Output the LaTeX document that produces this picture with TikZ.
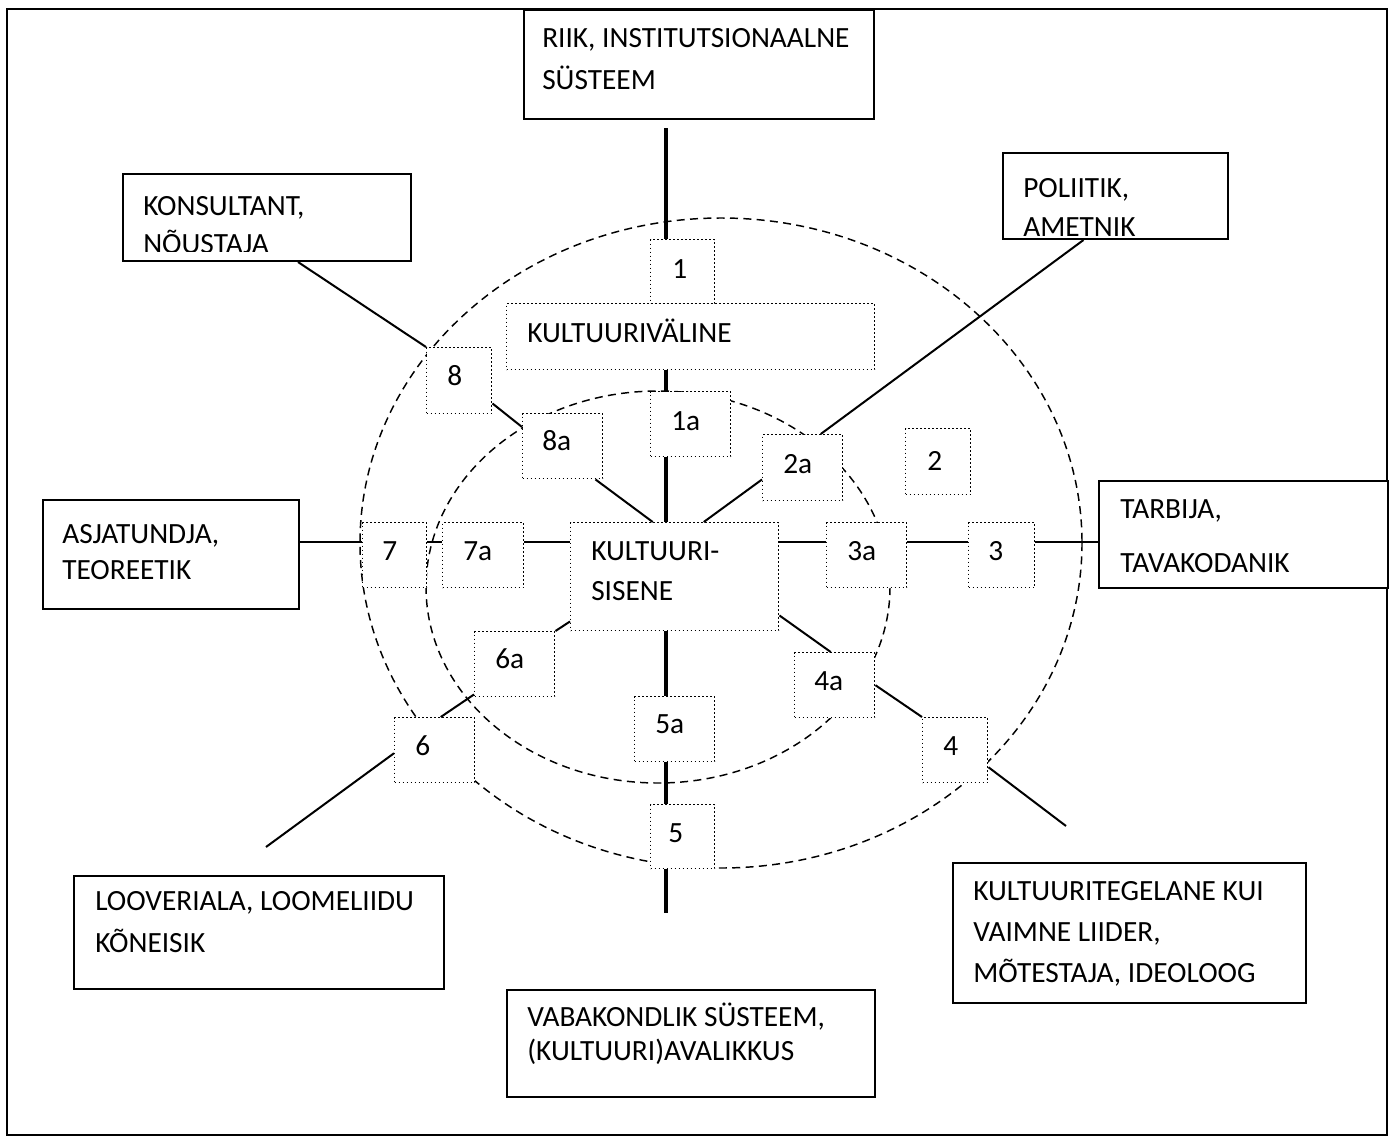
\documentclass[tikz,border=0pt]{standalone}
\usepackage{fontspec}
\setmainfont{Carlito}
\usetikzlibrary{calc}
\newcommand\mkbox[6]{\node[#1, anchor=north west, minimum width={(#5-#3)*0.75pt}, minimum height={(#6-#4)*0.75pt}] (#2) at (#3,#4) {};}
\newcommand\lns[1]{\begin{tabular}[t]{@{}l@{}}#1\end{tabular}}
\begin{document}
\begin{tikzpicture}[x=0.75pt,y=-0.75pt,
  solidbox/.style={draw, line width=1.5pt, fill=white, inner sep=0pt},
  dotbox/.style={draw, line width=1.1pt, dash pattern=on 1.1pt off 1.9pt, fill=white, inner sep=0pt},
  conn/.style={line width=1.5pt},
  axisline/.style={line width=3.2pt},
  ring/.style={line width=1.1pt, dash pattern=on 6pt off 4pt},
  lbl/.style={font=\fontsize{22}{#1}\selectfont, anchor=base west, inner sep=0pt},
  lbl/.default=29pt]
\useasboundingbox (0,0) rectangle (1394,1142);
\draw[line width=1.5pt] (7,9) rectangle (1387,1135);

% dashed rings
\draw[ring] (721,543) ellipse [x radius=361, y radius=325];
\draw[ring] (658,587) ellipse [x radius=232, y radius=196];

% helper coordinates
\coordinate (ax) at (666,0);
\coordinate (hl) at (0,542);
\coordinate (axtop) at (666,128);
\coordinate (axbot) at (666,913);
\coordinate (e6) at (266,847);
\coordinate (e4) at (1066,826);

% outer role boxes
\mkbox{solidbox}{riik}{523}{9}{873}{118}
\mkbox{solidbox}{kons}{122}{173}{410}{260}
\mkbox{solidbox}{pol}{1002}{152}{1227}{238}
\mkbox{solidbox}{asj}{42}{499}{298}{608}
\mkbox{solidbox}{tar}{1098}{480}{1387}{587}
\mkbox{solidbox}{loov}{73}{875}{443}{988}
\mkbox{solidbox}{kult}{952}{862}{1305}{1002}
\mkbox{solidbox}{vaba}{506}{989}{874}{1096}

% dotted boxes
\mkbox{dotbox}{b1}{650}{239}{714}{303}
\mkbox{dotbox}{kv}{506}{303}{874}{369}
\mkbox{dotbox}{b1a}{650}{391}{730}{456}
\mkbox{dotbox}{b8}{426}{347}{491}{413}
\mkbox{dotbox}{b8a}{522}{413}{602}{478}
\mkbox{dotbox}{b2a}{762}{434}{842}{500}
\mkbox{dotbox}{b2}{905}{428}{970}{494}
\mkbox{dotbox}{sis}{570}{522}{778}{630}
\mkbox{dotbox}{b7a}{442}{522}{523}{587}
\mkbox{dotbox}{b7}{362}{522}{426}{587}
\mkbox{dotbox}{b3a}{826}{522}{906}{587}
\mkbox{dotbox}{b3}{968}{522}{1034}{587}
\mkbox{dotbox}{b6a}{474}{631}{554}{696}
\mkbox{dotbox}{b6}{394}{717}{474}{782}
\mkbox{dotbox}{b5a}{634}{696}{714}{761}
\mkbox{dotbox}{b5}{650}{804}{714}{868}
\mkbox{dotbox}{b4a}{794}{652}{874}{717}
\mkbox{dotbox}{b4}{922}{717}{987}{782}

% thick axis
\draw[axisline] (axtop) -- (b1.north -| ax);
\draw[axisline] (kv.south -| ax) -- (b1a.north -| ax);
\draw[axisline] (b1a.south -| ax) -- (sis.north -| ax);
\draw[axisline] (sis.south -| ax) -- (b5a.north -| ax);
\draw[axisline] (b5a.south -| ax) -- (b5.north -| ax);
\draw[axisline] (b5.south -| ax) -- (axbot);

% horizontal connectors
\draw[conn] (asj.east |- hl) -- (b7.west |- hl);
\draw[conn] (b7.east |- hl) -- (b7a.west |- hl);
\draw[conn] (b7a.east |- hl) -- (sis.west |- hl);
\draw[conn] (sis.east |- hl) -- (b3a.west |- hl);
\draw[conn] (b3a.east |- hl) -- (b3.west |- hl);
\draw[conn] (b3.east |- hl) -- (tar.west |- hl);

% diagonal connectors
\draw[conn] ($(kons.south west)+(176,0)$) -- (b8.north west);
\draw[conn] ($(b8.south east)+(0,-11)$) -- ($(b8a.north west)+(0,14)$);
\draw[conn] ($(b8a.south east)+(-8,0)$) -- ($(sis.north)+(-22,0)$);
\draw[conn] ($(b2a.south west)+(0,-22)$) -- ($(sis.north)+(29,0)$);
\draw[conn] ($(b2a.north)+(18,0)$) -- ($(pol.south)+(-32,0)$);
\draw[conn] ($(sis.south west)+(0,-10)$) -- (b6a.north east);
\draw[conn] ($(b6a.south west)+(0,-3)$) -- ($(b6.north)+(6,0)$);
\draw[conn] ($(b6.west)+(0,3)$) -- (e6);
\draw[conn] ($(sis.south east)+(0,-16)$) -- ($(b4a.north)+(-4,0)$);
\draw[conn] (b4a.east) -- (b4.north west);
\draw[conn] ($(b4.east)+(0,17)$) -- (e4);

% texts of outer boxes
\node[lbl=32pt] (t-riik) at (542,47) {\lns{RIIK, INSTITUTSIONAALNE\\SÜSTEEM}};
\begin{scope}
  \clip (kons.north west) rectangle ($(kons.south east)+(0,-11)$);
  \node[lbl=29pt] (t-kons) at (143,215) {\lns{KONSULTANT,\\NÕUSTAJA}};
\end{scope}
\begin{scope}
  \clip (pol.north west) rectangle ($(pol.south east)+(0,-4.5)$);
  \node[lbl=29.5pt] (t-pol) at (1023,197) {\lns{POLIITIK,\\AMETNIK}};
\end{scope}
\node[lbl=27pt] (t-asj) at (62,543) {\lns{ASJATUNDJA,\\TEOREETIK}};
\node[lbl=41pt] (t-tar) at (1120,518) {\lns{TARBIJA,\\TAVAKODANIK}};
\node[lbl=32pt] (t-loov) at (95,910) {\lns{LOOVERIALA, LOOMELIIDU\\KÕNEISIK}};
\node[lbl=31pt] (t-kult) at (973,900) {\lns{KULTUURITEGELANE KUI\\VAIMNE LIIDER,\\MÕTESTAJA, IDEOLOOG}};
\node[lbl=25.5pt] (t-vaba) at (527,1026) {\lns{VABAKONDLIK SÜSTEEM,\\(KULTUURI)AVALIKKUS}};

% texts of dotted boxes
\node[lbl] (t-kv) at (527,342) {KULTUURIVÄLINE};
\node[lbl=30pt] (t-sis) at (591,560) {\lns{KULTUURI-\\SISENE}};
\node[lbl] (t1) at (672,278) {1};
\node[lbl] (t1a) at (671,430) {1a};
\node[lbl] (t8) at (447,385) {8};
\node[lbl] (t8a) at (542,450) {8a};
\node[lbl] (t2a) at (783,473) {2a};
\node[lbl] (t2) at (927,470) {2};
\node[lbl] (t7) at (382,560) {7};
\node[lbl] (t7a) at (463,560) {7a};
\node[lbl] (t3a) at (847,560) {3a};
\node[lbl] (t3) at (988,560) {3};
\node[lbl] (t6a) at (495,668) {6a};
\node[lbl] (t6) at (415,755) {6};
\node[lbl] (t5a) at (655,733) {5a};
\node[lbl] (t5) at (668,842) {5};
\node[lbl] (t4a) at (814,690) {4a};
\node[lbl] (t4) at (943,755) {4};
\end{tikzpicture}
\end{document}
